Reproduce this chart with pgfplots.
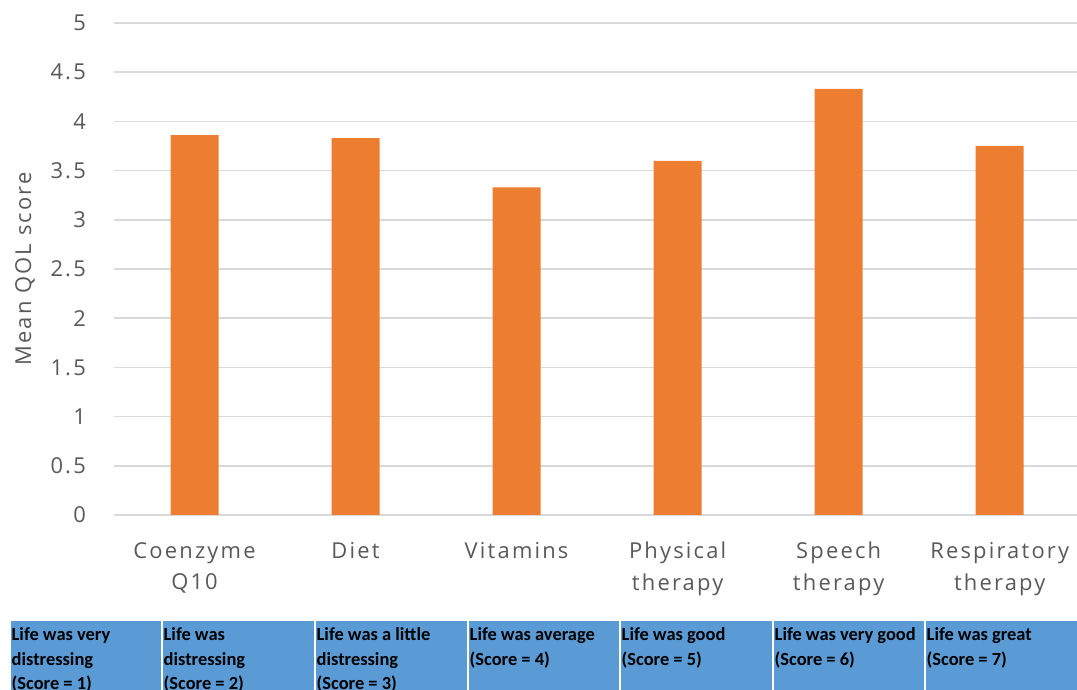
\documentclass[border=0pt]{standalone}
\usepackage{pgfplots}
\pgfplotsset{compat=1.18}
\usepackage{fontspec}
\setmainfont{Open Sans}
\newfontfamily\axisfont[LetterSpace=10]{Open Sans}
\newfontfamily\boxfont{Carlito}
\definecolor{barorange}{HTML}{ED7D31}
\definecolor{gridgrey}{HTML}{D9D9D9}
\definecolor{labelgrey}{HTML}{595959}
\definecolor{keyblue}{HTML}{5B9BD5}

\begin{document}
\begin{tikzpicture}
\clip (0,0) rectangle (1077bp,690bp);
\fill[white] (0,0) rectangle (1077bp,690bp);
\begin{axis}[
  at={(114bp,175bp)}, anchor=south west,
  scale only axis,
  width=963bp, height=492bp,
  xmin=-0.5, xmax=5.48,
  ymin=0, ymax=5,
  ytick={0,0.5,...,5},
  xtick={0,1,2,3,4,5},
  xticklabels={Coenzyme\\Q10, Diet, Vitamins, Physical\\therapy, Speech\\therapy, Respiratory\\therapy},
  axis line style={draw=none},
  major tick length=0pt,
  ymajorgrids,
  grid style={gridgrey, line width=1.5bp},
  /pgf/number format/assume math mode=true,
  tick label style={text=labelgrey, font=\axisfont\fontsize{22}{32}\selectfont},
  yticklabel style={inner sep=0pt, xshift=-28bp},
  xticklabel style={align=center, inner sep=0pt, yshift=-27bp},
  ylabel={Mean QOL score},
  ylabel style={at={(axis description cs:-0.0924,0.5)}, anchor=center, text=labelgrey, font=\axisfont\fontsize{22}{26}\selectfont},
  ybar, bar width=48bp,
]
\addplot[fill=barorange, draw=none] coordinates {
  (0,3.86) (1,3.83) (2,3.33) (3,3.60) (4,4.33) (5,3.75)
};
\end{axis}

% score key along the bottom
\foreach \xa/\xb/\txt in {
  10/162/{Life was very\\distressing\\(Score = 1)},
  162/315/{Life was\\distressing\\(Score = 2)},
  315/468/{Life was a little\\distressing\\(Score = 3)},
  468/620/{Life was average\\(Score = 4)},
  620/773/{Life was good\\(Score = 5)},
  773/925/{Life was very good\\(Score = 6)},
  925/1080/{Life was great\\(Score = 7)}} {
  \fill[keyblue] (\xa bp+1bp,-20bp) rectangle (\xb bp-1bp,69bp);
  \node[anchor=north west, inner sep=0pt, align=left,
        font=\boxfont\bfseries\fontsize{18.5}{25}\selectfont]
    at (\xa bp+1.5bp,63bp) {\txt};
}
\end{tikzpicture}
\end{document}
